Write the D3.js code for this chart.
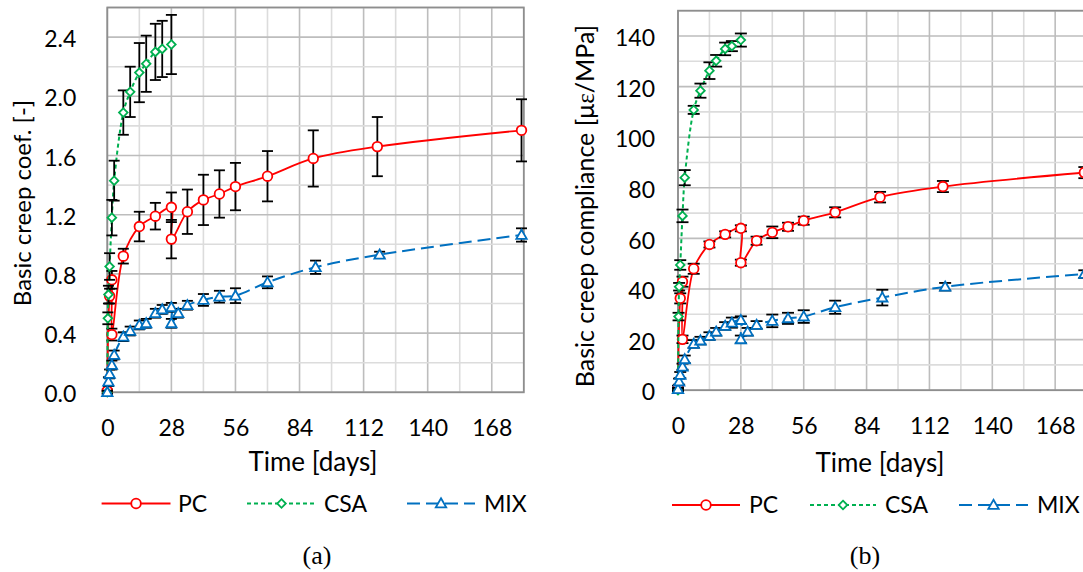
<!DOCTYPE html>
<html><head><meta charset="utf-8">
<script src="https://cdn.jsdelivr.net/npm/d3@7"></script>
<style>body{margin:0;background:#fff}svg{display:block}</style>
</head><body>
<svg id="c" width="1083" height="572"></svg>
<script>
// ---------- data ----------
const timeTicks = [0, 28, 56, 84, 112, 140, 168];
const coefTicks = [0, 0.4, 0.8, 1.2, 1.6, 2.0, 2.4];
const compTicks = [0, 20, 40, 60, 80, 100, 120, 140];
const seriesNames = ["PC", "CSA", "MIX"];

const pcTime  = [0, 1, 2, 2, 7, 14, 21, 28, 28, 35, 42, 49, 56, 70, 90, 118, 181];
const csaTime = [0, 0.25, 0.5, 1, 2, 3, 7, 10, 14, 17, 21, 24, 28];
const mixTime = [0, 0.5, 1, 2, 3, 7, 10, 14, 17, 21, 24, 28, 28, 31, 35, 42, 49, 56, 70, 91, 119, 181];

// (a) basic creep coefficient [-]
const pcCoef     = [0.01, 0.65, 0.76, 0.39, 0.92, 1.12, 1.19, 1.25, 1.035, 1.22, 1.30, 1.34, 1.39, 1.46, 1.58, 1.66, 1.77];
const pcCoefErr  = [0.01, 0.05, 0.06, 0.04, 0.05, 0.10, 0.09, 0.10, 0.13, 0.15, 0.17, 0.16, 0.16, 0.17, 0.19, 0.20, 0.21];
const csaCoef    = [0, 0.50, 0.66, 0.85, 1.18, 1.43, 1.89, 2.03, 2.16, 2.22, 2.30, 2.32, 2.35];
const csaCoefErr = [0.01, 0.04, 0.06, 0.09, 0.12, 0.135, 0.15, 0.17, 0.20, 0.19, 0.19, 0.19, 0.20];
const mixCoef    = [0, 0.072, 0.124, 0.184, 0.252, 0.376, 0.414, 0.455, 0.466, 0.534, 0.56, 0.574, 0.466, 0.534, 0.588, 0.624, 0.646, 0.653, 0.743, 0.845, 0.93, 1.063];
const mixCoefErr = [0.01, 0.03, 0.03, 0.03, 0.03, 0.03, 0.03, 0.03, 0.03, 0.03, 0.03, 0.03, 0.03, 0.03, 0.03, 0.04, 0.04, 0.05, 0.04, 0.045, 0.02, 0.045];

// (b) basic creep compliance [µε/MPa]
const pcComp     = [0.8, 36.3, 42.9, 20.1, 48.0, 57.6, 61.6, 64.0, 50.4, 59.1, 62.4, 64.6, 67.0, 70.3, 76.3, 80.5, 86.0];
const pcCompErr  = [1.0, 2.0, 2.0, 1.5, 2.0, 1.2, 1.2, 1.2, 1.2, 1.6, 2.3, 1.6, 1.6, 2.0, 2.1, 2.2, 2.2];
const csaComp    = [0, 29.1, 40.9, 49.5, 68.9, 84.0, 110.8, 118.4, 126.3, 130.2, 134.9, 136.0, 138.4];
const csaCompErr = [0.5, 1.5, 1.5, 1.9, 2.5, 3.0, 1.6, 2.8, 3.3, 2.3, 2.5, 2.0, 2.6];
const mixComp    = [0.4, 3.4, 6.0, 9.3, 12.2, 18.3, 19.6, 21.4, 23.1, 25.4, 26.7, 27.7, 20.1, 23.1, 25.8, 27.4, 28.4, 29.1, 32.8, 36.6, 40.9, 45.9];
const mixCompErr = [0.5, 1.2, 1.2, 1.2, 1.5, 1.5, 1.5, 1.5, 1.5, 1.5, 2.0, 1.5, 1.5, 1.5, 1.5, 2.5, 2.2, 2.5, 2.6, 3.1, 1.5, 1.5];

// ---------- drawing ----------
const svg = d3.select("#c");
const FONT = "Lato, 'Open Sans', sans-serif";
const COLORS = {PC: "#FF0000", CSA: "#00B050", MIX: "#0070C0"};
const DASH = {PC: null, CSA: "4,3", MIX: "13,6"};
const WIDTH = {PC: 1.8, CSA: 2, MIX: 2};

function marker(g, name, cx, cy) {
  const c = COLORS[name];
  if (name === "PC") {
    g.append("circle").attr("cx", cx).attr("cy", cy).attr("r", 4.8)
      .attr("fill", "#fff").attr("stroke", c).attr("stroke-width", 1.8);
  } else if (name === "CSA") {
    const s = 4.3;
    g.append("path").attr("d", `M${cx},${cy-s}L${cx+s},${cy}L${cx},${cy+s}L${cx-s},${cy}Z`)
      .attr("fill", "#fff").attr("stroke", c).attr("stroke-width", 1.8);
  } else {
    const s = 5.2;
    g.append("path").attr("d", `M${cx},${cy-s}L${cx+s},${cy+s*0.75}L${cx-s},${cy+s*0.75}Z`)
      .attr("fill", "#fff").attr("stroke", c).attr("stroke-width", 1.8);
  }
}

function panel(o) {
  const x = d3.scaleLinear().domain([0, 182]).range([o.left, o.right]);
  const y = d3.scaleLinear().domain([0, o.yMax]).range([o.bottom, o.top]);
  const g = svg.append("g");

  // grid
  const xMinor = d3.range(0, 183, 14);
  const yMinor = d3.range(0, o.yMax + 1e-9, o.yMinor);
  g.selectAll(".vx").data(xMinor).join("line")
    .attr("x1", d => x(d)).attr("x2", d => x(d)).attr("y1", o.top).attr("y2", o.bottom)
    .attr("stroke", d => d % 28 === 0 ? "#BDBDBD" : "#DCDCDC").attr("stroke-width", 1.6);
  g.selectAll(".hy").data(yMinor).join("line")
    .attr("x1", o.left).attr("x2", o.right).attr("y1", d => y(d)).attr("y2", d => y(d))
    .attr("stroke", (d, i) => i % 2 === 0 ? "#BDBDBD" : "#DCDCDC").attr("stroke-width", 1.6);
  g.append("rect").attr("x", o.left).attr("y", o.top)
    .attr("width", o.right - o.left).attr("height", o.bottom - o.top)
    .attr("fill", "none").attr("stroke", "#8E8E8E").attr("stroke-width", 1.8);

  // axes (labels only)
  const ax = g.append("g").attr("transform", `translate(0,${o.bottom})`)
    .call(d3.axisBottom(x).tickValues(timeTicks).tickSize(0).tickPadding(o.xPad));
  ax.select(".domain").remove();
  ax.selectAll("text").attr("font-family", FONT).attr("font-size", 23).attr("fill", "#000");
  const ay = g.append("g").attr("transform", `translate(${o.left},0)`)
    .call(d3.axisLeft(y).tickValues(o.yTicks).tickFormat(o.yFmt).tickSize(0).tickPadding(o.yPad));
  ay.select(".domain").remove();
  ay.selectAll("text").attr("font-family", FONT).attr("font-size", 23).attr("fill", "#000").attr("dy", "0.42em");

  // titles
  g.append("text").attr("x", o.xTitleX).attr("y", o.xTitleY).attr("text-anchor", "middle")
    .attr("font-family", FONT).attr("font-size", 26).text("Time [days]");
  const yt = g.append("text").attr("transform", `translate(${o.yTitleX},${o.yTitleY}) rotate(-90)`)
    .attr("text-anchor", "middle").attr("font-family", FONT).attr("font-size", o.yTitleSize);
  o.yTitle(yt);

  // series
  const line = d3.line().x(d => x(d[0])).y(d => y(d[1])).curve(d3.curveCatmullRom.alpha(0.5));
  o.series.forEach(s => {
    const pts = s.t.map((t, i) => [t, s.v[i], s.e[i]]);
    g.append("path").datum(pts).attr("d", line).attr("fill", "none")
      .attr("stroke", COLORS[s.name]).attr("stroke-width", WIDTH[s.name])
      .attr("stroke-dasharray", DASH[s.name]);
    const eb = g.append("g").attr("stroke", "#000").attr("stroke-width", 1.8);
    pts.forEach(p => {
      const xx = x(p[0]), y1 = y(p[1] + p[2]), y2 = y(p[1] - p[2]);
      eb.append("line").attr("x1", xx).attr("x2", xx).attr("y1", y1).attr("y2", y2);
      eb.append("line").attr("x1", xx - o.cap).attr("x2", xx + o.cap).attr("y1", y1).attr("y2", y1);
      eb.append("line").attr("x1", xx - o.cap).attr("x2", xx + o.cap).attr("y1", y2).attr("y2", y2);
    });
    const mk = g.append("g");
    pts.forEach(p => marker(mk, s.name, x(p[0]), y(p[1])));
  });

  // legend
  const lg = g.append("g");
  seriesNames.forEach((n, i) => {
    const L = o.legend[i];
    lg.append("line").attr("x1", L[0]).attr("x2", L[1]).attr("y1", o.legY).attr("y2", o.legY)
      .attr("stroke", COLORS[n]).attr("stroke-width", WIDTH[n]).attr("stroke-dasharray", DASH[n]);
    marker(lg, n, (L[0] + L[1]) / 2, o.legY);
    lg.append("text").attr("x", L[2]).attr("y", o.legY + 8).attr("font-family", FONT)
      .attr("font-size", 23).text(n);
  });
  g.append("text").attr("x", o.capX).attr("y", 564).attr("text-anchor", "middle")
    .attr("font-family", "'Liberation Serif', 'Times New Roman', serif").attr("font-size", 26)
    .text(o.caption);
}

panel({
  left: 107.3, right: 523.8, top: 7.5, bottom: 392.3, yMax: 2.6, yMinor: 0.2,
  yTicks: coefTicks, yFmt: d3.format(".1f"), xPad: 27, yPad: 31,
  xTitleX: 313, xTitleY: 471, yTitleX: 31, yTitleY: 203, yTitleSize: 24, cap: 5.5,
  yTitle: t => t.text("Basic creep coef. [-]"),
  series: [
    {name: "PC", t: pcTime, v: pcCoef, e: pcCoefErr},
    {name: "CSA", t: csaTime, v: csaCoef, e: csaCoefErr},
    {name: "MIX", t: mixTime, v: mixCoef, e: mixCoefErr}
  ],
  legY: 503.5, legend: [[101.6, 170.5, 178], [247, 316, 324], [407, 475, 484]],
  capX: 317, caption: "(a)"
});

panel({
  left: 678, right: 1086.6, top: 10.7, bottom: 390.2, yMax: 150, yMinor: 10,
  yTicks: compTicks, yFmt: d3.format("d"), xPad: 27, yPad: 23,
  xTitleX: 880, xTitleY: 472, yTitleX: 594, yTitleY: 206, yTitleSize: 25, cap: 6,
  yTitle: t => {
    t.append("tspan").text("Basic creep compliance [μ");
    t.append("tspan").attr("font-family", "'Liberation Serif', serif").text("ε");
    t.append("tspan").text("/MPa]");
  },
  series: [
    {name: "PC", t: pcTime, v: pcComp, e: pcCompErr},
    {name: "CSA", t: csaTime, v: csaComp, e: csaCompErr},
    {name: "MIX", t: mixTime, v: mixComp, e: mixCompErr}
  ],
  legY: 505, legend: [[672, 740, 749], [810, 876, 885], [959, 1028, 1037]],
  capX: 865, caption: "(b)"
});
</script>
</body></html>
